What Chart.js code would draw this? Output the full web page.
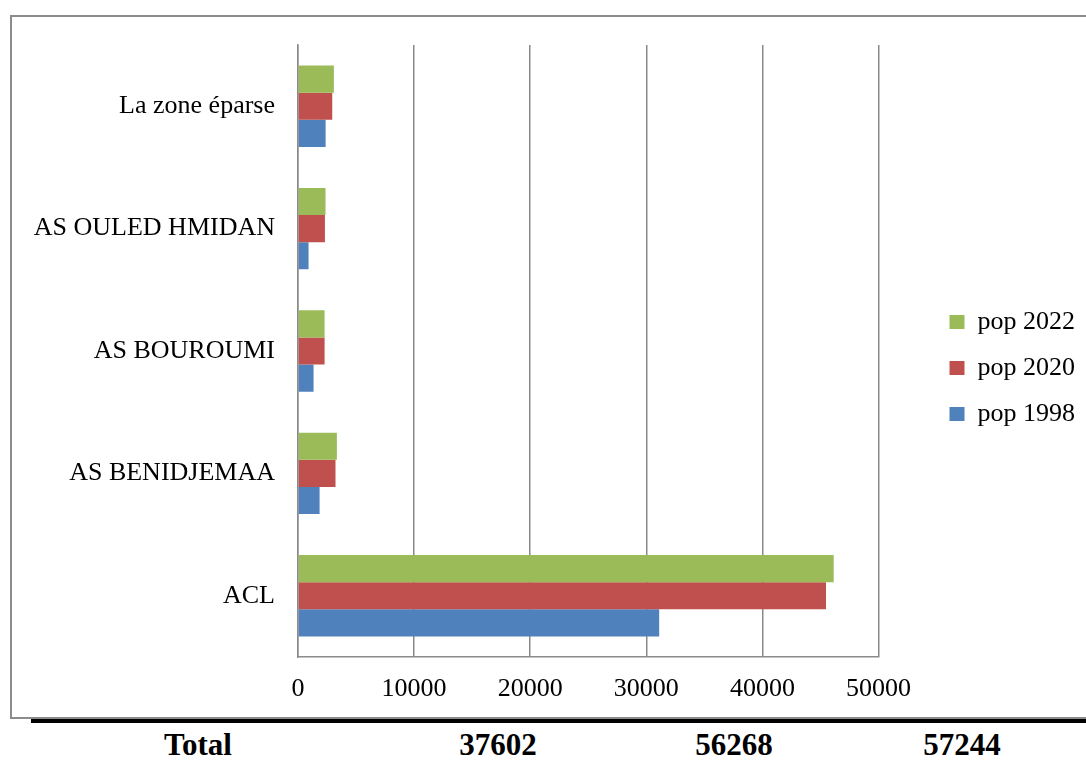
<!DOCTYPE html>
<html>
<head>
<meta charset="utf-8">
<script src="https://cdn.jsdelivr.net/npm/chart.js@4.4.1/dist/chart.umd.min.js"></script>
<style>
  html, body { margin: 0; padding: 0; background: #fff; }
  #page { position: relative; width: 1086px; height: 781px; overflow: hidden; }
  #frame { position: absolute; left: 10px; top: 15px; width: 1090px; height: 704px; box-sizing: border-box; border: 2px solid #8c8c8c; }
  #chart { position: absolute; left: 10px; top: 15px; }
  #rule { position: absolute; left: 31px; top: 719px; width: 1060px; height: 4px; background: #000; }
  .total { position: absolute; top: 729px; width: 160px; text-align: center; font: bold 31px "Liberation Serif", "Times New Roman", serif; line-height: 31px; color: #000; }
</style>
</head>
<body>
<div id="page">
  <div id="frame"></div>
  <canvas id="chart" width="1076" height="704"></canvas>
  <div id="rule"></div>
  <div class="total" style="left:118px">Total</div>
  <div class="total" id="t0" style="left:418px"></div>
  <div class="total" id="t1" style="left:654px"></div>
  <div class="total" id="t2" style="left:882px"></div>
</div>
<script>
'use strict';

// data, top to bottom as in the picture
const categories = ['La zone éparse', 'AS OULED HMIDAN', 'AS BOUROUMI', 'AS BENIDJEMAA', 'ACL'];
const pop2022 = [3090, 2370, 2290, 3350, 46140];
const pop2020 = [2950, 2320, 2290, 3230, 45480];
const pop1998 = [2380, 910, 1340, 1860, 31110];
const totals = ['37602', '56268', '57244'];
const xTicks = [0, 10000, 20000, 30000, 40000, 50000];

totals.forEach((t, i) => { document.getElementById('t' + i).textContent = t; });

const serif = '"Liberation Serif", "Times New Roman", serif';
Chart.defaults.font.family = serif;
Chart.defaults.font.size = 26;
Chart.defaults.color = '#000';

const gridGrey = '#8a8a8a';

const ctx = document.getElementById('chart');

const chart = new Chart(ctx, {
  type: 'bar',
  data: {
    labels: categories,
    datasets: [
      { label: 'pop 2022', data: pop2022, backgroundColor: '#9BBB59' },
      { label: 'pop 2020', data: pop2020, backgroundColor: '#C0504D' },
      { label: 'pop 1998', data: pop1998, backgroundColor: '#4F81BD' },
    ],
  },
  options: {
    indexAxis: 'y',
    responsive: false,
    animation: false,
    datasets: {
      bar: { categoryPercentage: 0.665, barPercentage: 1 },
    },
    layout: { padding: { top: 30, left: 0, right: 1, bottom: 14 } },
    scales: {
      x: {
        min: 0,
        max: 50000,
        afterBuildTicks: (s) => { s.ticks = xTicks.map((v) => ({ value: v })); },
        ticks: { padding: 17, callback: (v) => String(v) },
        grid: { color: gridGrey, lineWidth: 1.5, drawTicks: false },
        border: { color: gridGrey, width: 1.5 },
        afterFit: (s) => { s.height = 48; s.paddingLeft = 0; s.paddingRight = 0; },
      },
      y: {
        grid: { display: false, drawTicks: false },
        border: { color: gridGrey, width: 1.5 },
        ticks: { padding: 23 },
        afterFit: (s) => { s.width = 288; s.paddingTop = 0; s.paddingBottom = 0; },
      },
      // empty spacer between plot and legend
      y2: {
        type: 'linear',
        position: 'right',
        grid: { display: false },
        ticks: { display: false },
        border: { display: false },
        afterFit: (s) => { s.width = 51; s.paddingTop = 0; s.paddingBottom = 0; },
      },
    },
    plugins: {
      legend: {
        position: 'right',
        fullSize: false,
        title: { display: true, text: '', padding: 11, font: { size: 10 } },
        labels: { boxWidth: 15, boxHeight: 14, padding: 20 },
      },
      tooltip: { enabled: false },
    },
  },
});
</script>
</body>
</html>
